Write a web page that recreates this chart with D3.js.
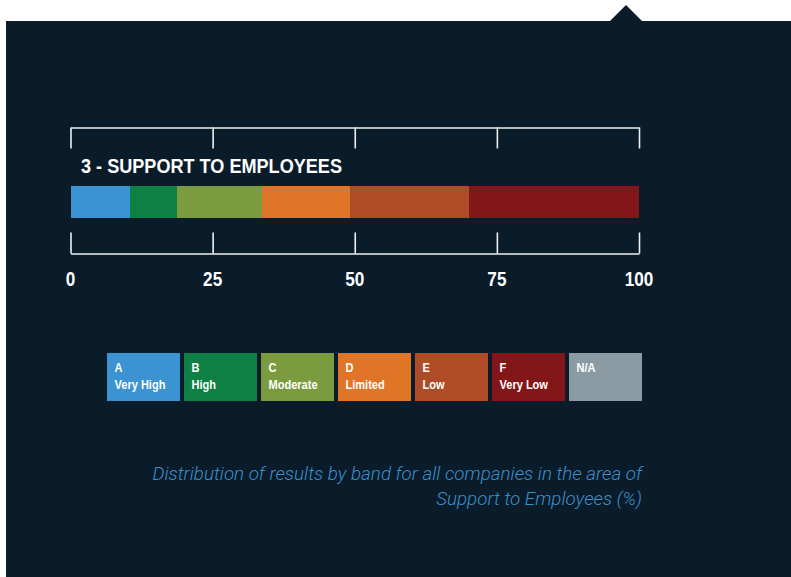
<!DOCTYPE html>
<html>
<head>
<meta charset="utf-8">
<script src="https://cdn.jsdelivr.net/npm/d3@7"></script>
<style>
  html, body { margin: 0; padding: 0; background: #ffffff; }
  svg { display: block; }
</style>
</head>
<body>
<svg id="chart" width="791" height="577"></svg>
<script>
// Band shares (%) for the "Support to Employees" area
const bands = ["A", "B", "C", "D", "E", "F"];
const bandNames = ["Very High", "High", "Moderate", "Limited", "Low", "Very Low"];
const shares = [10.5, 8.2, 15.0, 15.5, 20.9, 29.9];
const bandColors = ["#3b93d1", "#0e8044", "#7a9c3e", "#e07427", "#ae4c27", "#821619"];

const legendCodes = ["A", "B", "C", "D", "E", "F", "N/A"];
const legendNames = ["Very High", "High", "Moderate", "Limited", "Low", "Very Low", ""];
const legendColors = ["#3b93d1", "#0e8044", "#7a9c3e", "#e07427", "#ae4c27", "#821619", "#8a9ba4"];

const tickValues = [0, 25, 50, 75, 100];
const chartTitle = "3 - SUPPORT TO EMPLOYEES";
const captionLines = [
  "Distribution of results by band for all companies in the area of",
  "Support to Employees (%)"
];

const panelColor = "#0a1c2a";
const lineColor = "#eef0f1";
const boldFace = "'Liberation Sans', Arial, Helvetica, sans-serif";

const svg = d3.select("#chart");

// Bold text squeezed horizontally to get a condensed look
function narrowText(parent, px, py, str, size, sx, anchor) {
  const g = parent.append("g").attr("transform", `translate(${px},${py}) scale(${sx},1)`);
  return g.append("text")
    .attr("x", 0)
    .attr("y", 0)
    .attr("text-anchor", anchor || "start")
    .attr("fill", "#ffffff")
    .attr("font-family", boldFace)
    .attr("font-weight", "bold")
    .attr("font-size", size)
    .text(str);
}

// Dark panel with a small pointer on its top edge
svg.append("path")
  .attr("d", "M6,21 L610,21 L626,5 L642,21 L791,21 L791,577 L6,577 Z")
  .attr("fill", panelColor);

const x = d3.scaleLinear().domain([0, 100]).range([70.5, 639]);

// Upper bracket
const topAxis = d3.axisBottom(x).tickValues(tickValues).tickSize(21).tickSizeOuter(0).tickFormat("");
const gTop = svg.append("g").attr("transform", "translate(0,127.5)").call(topAxis);
gTop.select(".domain").attr("stroke", lineColor).attr("stroke-width", 1.6);
gTop.selectAll(".tick line").attr("stroke", lineColor).attr("stroke-width", 1.6);

// Lower bracket
const bottomAxis = d3.axisTop(x).tickValues(tickValues).tickSize(21).tickSizeOuter(0).tickFormat("");
const gBot = svg.append("g").attr("transform", "translate(0,253.5)").call(bottomAxis);
gBot.select(".domain").attr("stroke", lineColor).attr("stroke-width", 1.6);
gBot.selectAll(".tick line").attr("stroke", lineColor).attr("stroke-width", 1.6);

// Tick labels
const gLabels = svg.append("g");
tickValues.forEach(v => narrowText(gLabels, x(v), 286, v, 19.5, 0.88, "middle"));

// Title
svg.append("text")
  .attr("x", 81)
  .attr("y", 173)
  .attr("fill", "#ffffff")
  .attr("font-family", boldFace)
  .attr("font-weight", "bold")
  .attr("font-size", 19.5)
  .attr("textLength", 261)
  .attr("lengthAdjust", "spacingAndGlyphs")
  .text(chartTitle);

// Stacked bar
const stacked = [];
let acc = 0;
shares.forEach((v, i) => { stacked.push({ band: bands[i], x0: acc, x1: acc + v, color: bandColors[i] }); acc += v; });

svg.append("g").selectAll("rect")
  .data(stacked)
  .join("rect")
  .attr("x", d => x(d.x0))
  .attr("y", 186)
  .attr("width", d => x(d.x1) - x(d.x0))
  .attr("height", 32)
  .attr("fill", d => d.color)
  .attr("shape-rendering", "crispEdges");

// Legend
const legend = d3.scaleBand().domain(legendCodes).range([107, 107 + 77 * 7 - 4]).paddingInner(4 / 77).paddingOuter(0);
const legendData = legendCodes.map((c, i) => ({ code: c, name: legendNames[i], color: legendColors[i] }));
const gLegend = svg.append("g");
legendData.forEach(d => {
  const left = legend(d.code);
  gLegend.append("rect")
    .attr("x", left)
    .attr("y", 353)
    .attr("width", legend.bandwidth())
    .attr("height", 48)
    .attr("fill", d.color);
  narrowText(gLegend, left + 7.5, 372, d.code, 13, 0.85);
  if (d.name) narrowText(gLegend, left + 7.5, 389, d.name, 13, 0.85);
});

// Caption
svg.append("g").selectAll("text")
  .data(captionLines)
  .join("text")
  .attr("x", 642)
  .attr("y", (d, i) => 480 + i * 25)
  .attr("text-anchor", "end")
  .attr("fill", "#3b8fcb")
  .attr("font-family", "Roboto, 'Liberation Sans', sans-serif")
  .attr("font-weight", 300)
  .attr("font-style", "italic")
  .attr("font-size", 18.8)
  .text(d => d);
</script>
</body>
</html>
